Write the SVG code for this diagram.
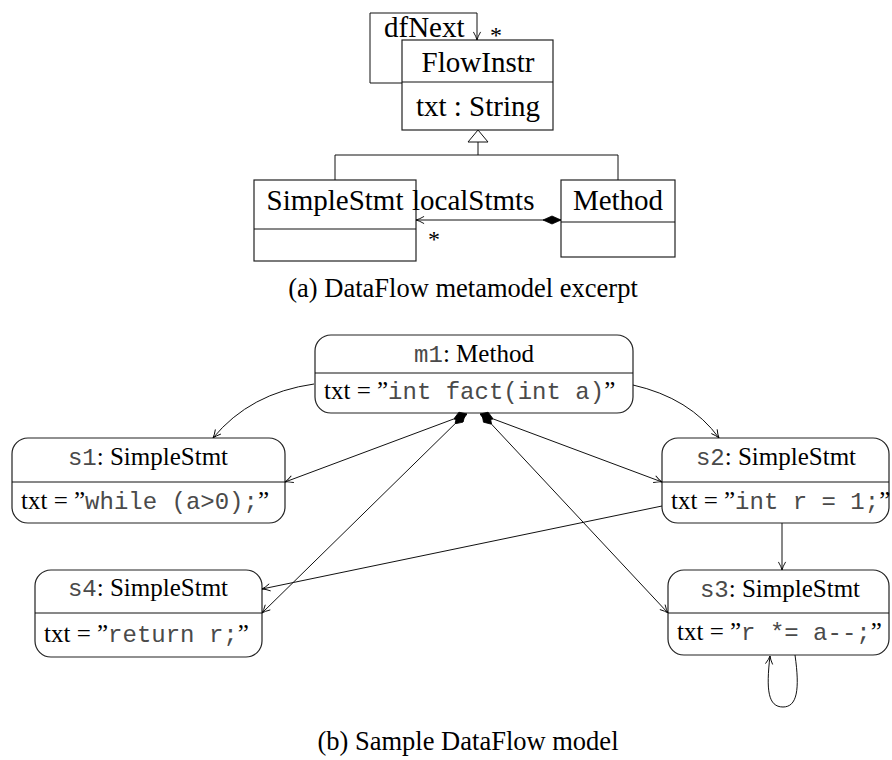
<svg xmlns="http://www.w3.org/2000/svg" width="892" height="760" viewBox="0 0 892 760">
<defs>
<style>
.box{fill:#fff;stroke:#222;stroke-width:1.2}
.ln{fill:none;stroke:#111;stroke-width:1}
.st{font-family:"Liberation Serif","Times New Roman",serif;fill:#000}
.mono{font-family:"Liberation Mono","Courier New",monospace;fill:#4a4a4a;font-size:24px}
.t29{font-size:29px}
.t24{font-size:24px}
.t25{font-size:25px}
.cap{font-size:26.5px}
</style>
<marker id="arr" viewBox="0 0 10 10" refX="10" refY="5" markerWidth="9" markerHeight="9" orient="auto" markerUnits="userSpaceOnUse">
<path d="M1,1 Q6,4 10,5 Q6,6 1,9" fill="none" stroke="#000" stroke-width="1"/>
</marker>
<marker id="dia" viewBox="0 0 18 10" refX="0" refY="5" markerWidth="18" markerHeight="10" orient="auto" markerUnits="userSpaceOnUse">
<path d="M0,5 L9,1 L18,5 L9,9 Z" fill="#000" stroke="#000" stroke-width="0.8"/>
</marker>
<marker id="dia2" viewBox="0 0 14 10" refX="0" refY="5" markerWidth="14" markerHeight="10" orient="auto" markerUnits="userSpaceOnUse">
<path d="M0,5 L7,0.5 L14,5 L7,9.5 Z" fill="#000" stroke="#000" stroke-width="0.8"/>
</marker>
</defs>
<rect width="892" height="760" fill="#fff"/>

<!-- (a) metamodel -->
<g id="FlowInstr">
<rect class="box" x="402" y="40" width="151" height="90"/>
<line class="ln" x1="402" y1="82" x2="553" y2="82"/>
<text class="st t29" x="478" y="72" text-anchor="middle">FlowInstr</text>
<text class="st t29" x="478" y="116" text-anchor="middle">txt : String</text>
</g>
<g id="SimpleStmt">
<rect class="box" x="254" y="180" width="162" height="81"/>
<line class="ln" x1="254" y1="229" x2="416" y2="229"/>
<text class="st t29" x="335" y="210" text-anchor="middle">SimpleStmt</text>
</g>
<g id="Method">
<rect class="box" x="561" y="180" width="114" height="77"/>
<line class="ln" x1="561" y1="222" x2="675" y2="222"/>
<text class="st t29" x="618" y="210" text-anchor="middle">Method</text>
</g>

<g id="meta-connectors">
<path class="ln" d="M402,83 H370 V13 H477 V40" marker-end="url(#arr)"/>
<text class="st t29" x="384" y="37">dfNext</text>
<text class="st t24" x="490" y="43">*</text>
<polygon points="478,130 468,142 488,142" fill="#fff" stroke="#111" stroke-width="1"/>
<path class="ln" d="M478,142 V155 M335,180 V155 H618 V180"/>
<path class="ln" d="M561,220 L416,220" marker-start="url(#dia)" marker-end="url(#arr)"/>
<text class="st t29" x="412" y="210">localStmts</text>
<text class="st t24" x="428" y="247">*</text>
</g>
<text class="st cap" x="463" y="297" text-anchor="middle">(a) DataFlow metamodel excerpt</text>

<!-- (b) model -->
<g id="m1">
<rect class="box" x="315" y="335" width="318" height="78" rx="16"/>
<line class="ln" x1="315" y1="373" x2="633" y2="373"/>
<text class="st t25" x="474" y="362" text-anchor="middle"><tspan class="mono">m1</tspan>: Method</text>
<text class="st t25" x="324" y="399">txt = ”<tspan class="mono">int fact(int a)</tspan>”</text>
</g>
<g id="s1">
<rect class="box" x="12" y="438" width="273" height="85" rx="16"/>
<line class="ln" x1="12" y1="482" x2="285" y2="482"/>
<text class="st t25" x="148" y="465" text-anchor="middle"><tspan class="mono">s1</tspan>: SimpleStmt</text>
<text class="st t25" x="21" y="509">txt = ”<tspan class="mono">while (a&gt;0);</tspan>”</text>
</g>
<g id="s2">
<rect class="box" x="662" y="438" width="227" height="85" rx="16"/>
<line class="ln" x1="662" y1="482" x2="889" y2="482"/>
<text class="st t25" x="776" y="465" text-anchor="middle"><tspan class="mono">s2</tspan>: SimpleStmt</text>
<text class="st t25" x="671" y="509">txt = ”<tspan class="mono">int r = 1;</tspan>”</text>
</g>
<g id="s4">
<rect class="box" x="35" y="570" width="227" height="87" rx="16"/>
<line class="ln" x1="35" y1="613" x2="262" y2="613"/>
<text class="st t25" x="148" y="596" text-anchor="middle"><tspan class="mono">s4</tspan>: SimpleStmt</text>
<text class="st t25" x="44" y="642">txt = ”<tspan class="mono">return r;</tspan>”</text>
</g>
<g id="s3">
<rect class="box" x="668" y="570" width="221" height="85" rx="16"/>
<line class="ln" x1="668" y1="613" x2="889" y2="613"/>
<text class="st t25" x="780" y="597" text-anchor="middle"><tspan class="mono">s3</tspan>: SimpleStmt</text>
<text class="st t25" x="677" y="640">txt = ”<tspan class="mono">r *= a--;</tspan>”</text>
</g>

<g id="model-connectors">
<path class="ln" d="M314,384 Q250,393 213,438" marker-end="url(#arr)"/>
<path class="ln" d="M633,385 Q690,398 719,438" marker-end="url(#arr)"/>
<path class="ln" d="M467,414 L285,482" marker-start="url(#dia2)" marker-end="url(#arr)"/>
<path class="ln" d="M465,414 L262,613" marker-start="url(#dia2)" marker-end="url(#arr)"/>
<path class="ln" d="M480,414 L662,482" marker-start="url(#dia2)" marker-end="url(#arr)"/>
<path class="ln" d="M482,414 L668,613" marker-start="url(#dia2)" marker-end="url(#arr)"/>
<path class="ln" d="M662,506 L262,589" marker-end="url(#arr)"/>
<path class="ln" d="M782,523 V570" marker-end="url(#arr)"/>
<path class="ln" d="M795,655 C800,690 797,707 783,707 C768,707 766,690 770,656" marker-end="url(#arr)"/>
</g>
<text class="st cap" x="468" y="750" text-anchor="middle">(b) Sample DataFlow model</text>
</svg>
